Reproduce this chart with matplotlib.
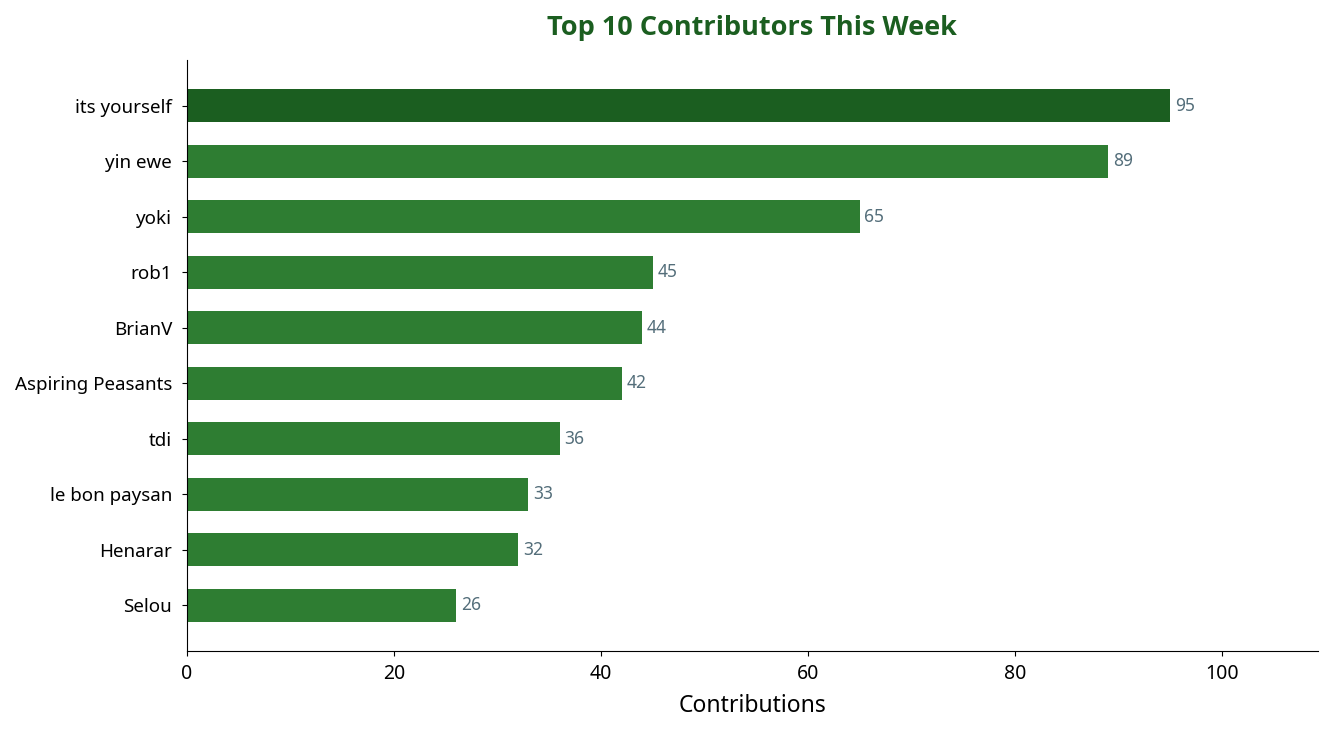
import matplotlib
matplotlib.use('Agg')
import matplotlib.pyplot as plt

# data
names = ['its yourself', 'yin ewe', 'yoki', 'rob1', 'BrianV', 'Aspiring Peasants',
         'tdi', 'le bon paysan', 'Henarar', 'Selou']
counts = [95, 89, 65, 45, 44, 42, 36, 33, 32, 26]

plt.rcParams['font.family'] = ['Noto Sans', 'DejaVu Sans']

fig, ax = plt.subplots(figsize=(13.34, 7.35), dpi=100)
fig.subplots_adjust(left=0.14, right=0.988, top=0.918, bottom=0.114)

colors = ['#1b5e20'] + ['#2e7d32'] * (len(counts) - 1)
y = list(range(len(names)))
ax.barh(y, counts, height=0.6, color=colors)
ax.set_yticks(y)
ax.set_yticklabels(names, fontsize=13.5)
ax.set_ylim(len(names) - 1 + 0.83, -0.82)

for yi, c in zip(y, counts):
    ax.text(c + 0.45, yi, str(c), va='center', ha='left', fontsize=12.5, color='#546e7a')

ax.set_xlim(0, max(counts) * 1.15)
ax.tick_params(axis='x', labelsize=14, pad=6)
ax.tick_params(axis='y', pad=7)
ax.set_xlabel('Contributions', fontsize=16.5, labelpad=7)
ax.set_title('Top 10 Contributors This Week', fontsize=19.5, fontweight='bold',
             color='#1b5e20', family=['Open Sans', 'Noto Sans'], pad=18)

ax.spines['top'].set_visible(False)
ax.spines['right'].set_visible(False)

fig.savefig('out.png')
